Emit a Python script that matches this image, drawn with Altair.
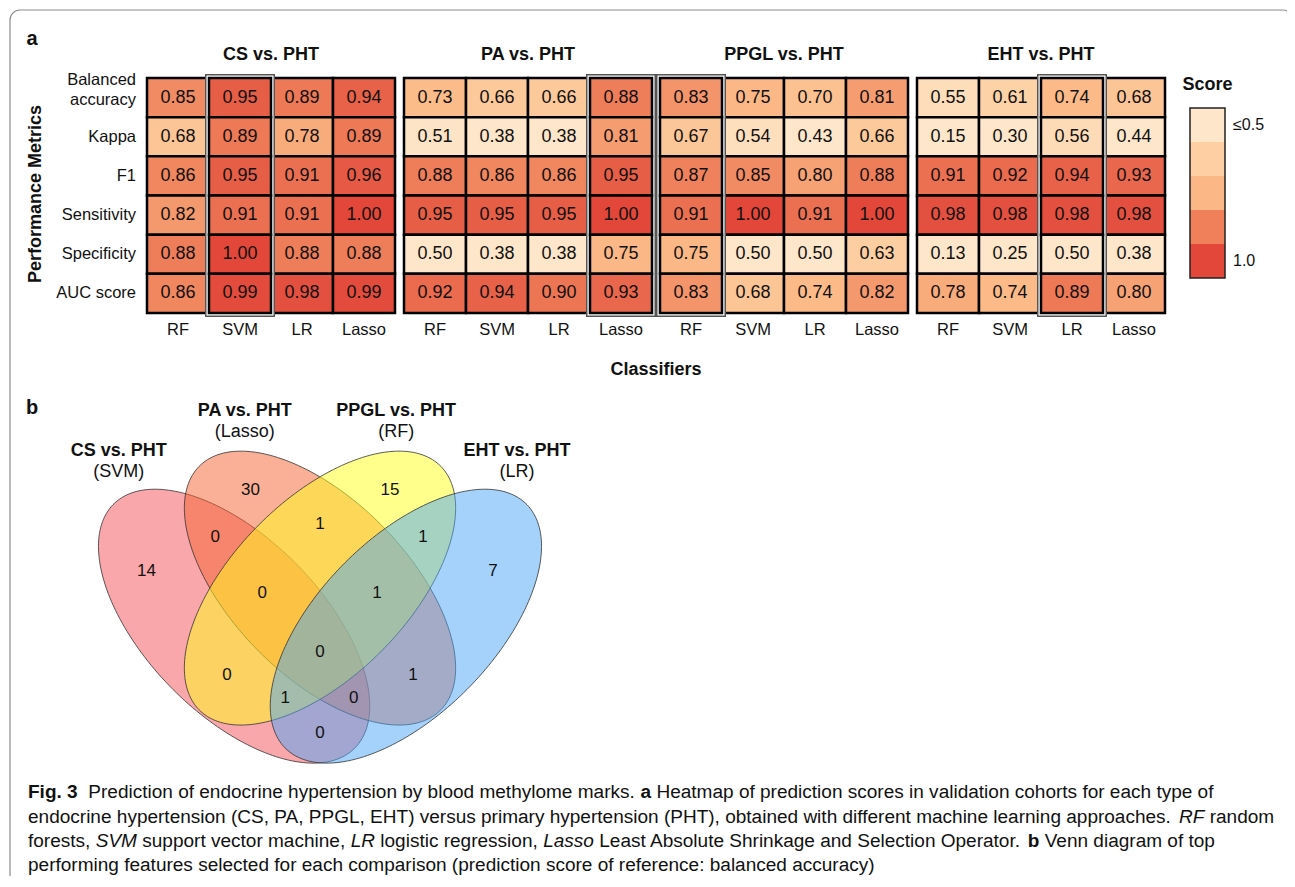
import altair as alt
import pandas as pd
import numpy as np

# ---------------- data ----------------
comparisons = ["CS vs. PHT", "PA vs. PHT", "PPGL vs. PHT", "EHT vs. PHT"]
classifiers = ["RF", "SVM", "LR", "Lasso"]
metrics = ["Balanced accuracy", "Kappa", "F1", "Sensitivity", "Specificity", "AUC score"]
metric_labels = ["Balanced\naccuracy", "Kappa", "F1", "Sensitivity", "Specificity", "AUC score"]

cs_scores = [
    [0.85, 0.95, 0.89, 0.94],
    [0.68, 0.89, 0.78, 0.89],
    [0.86, 0.95, 0.91, 0.96],
    [0.82, 0.91, 0.91, 1.00],
    [0.88, 1.00, 0.88, 0.88],
    [0.86, 0.99, 0.98, 0.99],
]
pa_scores = [
    [0.73, 0.66, 0.66, 0.88],
    [0.51, 0.38, 0.38, 0.81],
    [0.88, 0.86, 0.86, 0.95],
    [0.95, 0.95, 0.95, 1.00],
    [0.50, 0.38, 0.38, 0.75],
    [0.92, 0.94, 0.90, 0.93],
]
ppgl_scores = [
    [0.83, 0.75, 0.70, 0.81],
    [0.67, 0.54, 0.43, 0.66],
    [0.87, 0.85, 0.80, 0.88],
    [0.91, 1.00, 0.91, 1.00],
    [0.75, 0.50, 0.50, 0.63],
    [0.83, 0.68, 0.74, 0.82],
]
eht_scores = [
    [0.55, 0.61, 0.74, 0.68],
    [0.15, 0.30, 0.56, 0.44],
    [0.91, 0.92, 0.94, 0.93],
    [0.98, 0.98, 0.98, 0.98],
    [0.13, 0.25, 0.50, 0.38],
    [0.78, 0.74, 0.89, 0.80],
]
scores_by_comparison = [cs_scores, pa_scores, ppgl_scores, eht_scores]
best_classifier = ["SVM", "Lasso", "RF", "LR"]

score_stops = [0.5, 0.625, 0.75, 0.875, 1.0]
score_colors = ["#FEE6CA", "#FDCFA2", "#FBB886", "#EF805A", "#E2473A"]
legend_labels = ["\u22640.5", "", "", "", "1.0"]

venn_titles = ["CS vs. PHT", "PA vs. PHT", "PPGL vs. PHT", "EHT vs. PHT"]
venn_methods = ["(SVM)", "(Lasso)", "(RF)", "(LR)"]
venn_colors = ["#F34F55", "#F5612D", "#FFFF19", "#4BA5F5"]
venn_regions = ["CS", "PA", "PPGL", "EHT", "CS&PA", "PA&PPGL", "PPGL&EHT",
                "CS&PA&PPGL", "PA&PPGL&EHT", "CS&PA&PPGL&EHT", "CS&PPGL", "PA&EHT",
                "CS&PPGL&EHT", "CS&PA&EHT", "CS&EHT"]
venn_counts = [14, 30, 15, 7, 0, 1, 1, 0, 1, 0, 0, 1, 1, 0, 0]

caption_lines = [
    [("Fig. 3", "bold", "normal"),
     ("Prediction of endocrine hypertension by blood methylome marks.", "normal", "normal"),
     ("a", "bold", "normal"),
     ("Heatmap of prediction scores in validation cohorts for each type of", "normal", "normal")],
    [("endocrine hypertension (CS, PA, PPGL, EHT) versus primary hypertension (PHT), obtained with different machine learning approaches.", "normal", "normal"),
     ("RF", "normal", "italic"),
     ("random", "normal", "normal")],
    [("forests,", "normal", "normal"),
     ("SVM", "normal", "italic"),
     ("support vector machine,", "normal", "normal"),
     ("LR", "normal", "italic"),
     ("logistic regression,", "normal", "normal"),
     ("Lasso", "normal", "italic"),
     ("Least Absolute Shrinkage and Selection Operator.", "normal", "normal"),
     ("b", "bold", "normal"),
     ("Venn diagram of top", "normal", "normal")],
    [("performing features selected for each comparison (prediction score of reference: balanced accuracy)", "normal", "normal")],
]

# ---------------- layout (pixels in the chart area) ----------------
W, H = 1279, 868
FONT = "Liberation Sans"
PANEL_X0 = [139, 396, 652, 909]
PANEL_W = 248
ROW_TOP, ROW_BOTTOM = 70, 305
TITLE_Y, XLABEL_Y = 47, 322
YLABEL_X = 128
LEG_X0, LEG_X1, LEG_Y0, LEG_Y1 = 1182, 1217, 100, 270
CAPTION_X0 = 20
CAPTION_LINE1_WIDTH = 1186
CAPTION_Y = [790, 815, 839, 863]

# Venn geometry (unit space, mapped by an identity projection)
VENN_PROJ = dict(type="identity", scale=470, translate=[77, 848], reflectY=True)
VENN_CENTERS = [(0.33, 0.489), (0.5, 0.57), (0.5, 0.57), (0.67, 0.489)]
VENN_ANGLES = [-49, -49, 49, 49]
VENN_A, VENN_B = 0.353, 0.18
VENN_XSTRETCH = 1.075
VENN_ANCHORS = [(0.131, 0.606), (0.352, 0.779), (0.649, 0.779), (0.868, 0.606),
                (0.277, 0.679), (0.5, 0.706), (0.719, 0.679),
                (0.377, 0.560), (0.621, 0.560), (0.5, 0.434),
                (0.302, 0.385), (0.698, 0.385), (0.426, 0.336), (0.572, 0.336),
                (0.5, 0.262)]
VENN_TITLE_POS = [(0.072, 0.862), (0.340, 0.947), (0.662, 0.947), (0.919, 0.862)]
VENN_SUB_DY = 0.045

# Helvetica/Arial advance widths (per 1000 em) used to lay out the caption runs
HELV = {" ": 278, "(": 333, ")": 333, ",": 278, "-": 333, ".": 278, ":": 278,
        "A": 667, "B": 667, "C": 722, "D": 722, "E": 667, "F": 611, "G": 778, "H": 722,
        "I": 278, "J": 500, "K": 667, "L": 556, "M": 833, "N": 722, "O": 778, "P": 667,
        "Q": 778, "R": 722, "S": 667, "T": 611, "U": 722, "V": 667, "W": 944, "X": 667,
        "Y": 667, "Z": 611,
        "a": 556, "b": 556, "c": 500, "d": 556, "e": 556, "f": 278, "g": 556, "h": 556,
        "i": 222, "j": 222, "k": 500, "l": 222, "m": 833, "n": 556, "o": 556, "p": 556,
        "q": 556, "r": 333, "s": 500, "t": 278, "u": 556, "v": 500, "w": 722, "x": 500,
        "y": 500, "z": 500}
HELV_BOLD = {" ": 278, ".": 278, "3": 556, "F": 611, "a": 556, "b": 611, "g": 611, "i": 278}


def run_units(s, weight):
    tbl = HELV_BOLD if weight == "bold" else HELV
    return sum(tbl.get(ch, HELV.get(ch, 556)) for ch in s)


def caption_layout():
    line1 = caption_lines[0]
    u1 = sum(run_units(s, w) for s, w, _ in line1) + 278 * (len(line1) - 1) + 278
    size = CAPTION_LINE1_WIDTH / u1 * 1000.0
    placed = []
    for li, line in enumerate(caption_lines):
        x = CAPTION_X0
        for si, (seg, weight, style) in enumerate(line):
            placed.append((seg, weight, style, x, CAPTION_Y[li]))
            gap = 278 * (2 if (li == 0 and si == 0) else 1)
            x += (run_units(seg, weight) + gap) * size / 1000.0
    return size, placed


one = pd.DataFrame({"t": [""]})
color_scale = alt.Scale(domain=score_stops, range=score_colors, clamp=True, interpolate="rgb")


def text_at(txt, x, y, size, weight="normal", style="normal", align="center", angle=0,
            baseline="middle", font=FONT):
    return alt.Chart(pd.DataFrame({"t": [txt]})).mark_text(
        font=font, fontSize=size, fontWeight=weight, fontStyle=style, align=align,
        baseline=baseline, angle=angle, color="#111111"
    ).encode(x=alt.value(x), y=alt.value(y), text="t:N")


def panel(i):
    rows = []
    for r, m in enumerate(metrics):
        for c, clf in enumerate(classifiers):
            rows.append({"metric": m, "classifier": clf, "score": scores_by_comparison[i][r][c]})
    df = pd.DataFrame(rows)
    X = alt.X("classifier:N", axis=None,
              scale=alt.Scale(domain=classifiers, range=[PANEL_X0[i], PANEL_X0[i] + PANEL_W],
                              paddingInner=0, paddingOuter=0))
    Y = alt.Y("metric:N", axis=None,
              scale=alt.Scale(domain=metrics, range=[ROW_TOP, ROW_BOTTOM],
                              paddingInner=0, paddingOuter=0))
    C = alt.Color("score:Q", scale=color_scale, legend=None)
    cells = alt.Chart(df).mark_rect(stroke="black", strokeWidth=2.5).encode(x=X, y=Y, color=C)
    hl = alt.Chart(pd.DataFrame({"classifier": [best_classifier[i]]}))
    hl_outer = hl.mark_rect(fill="white", fillOpacity=0, stroke="#555555", strokeWidth=8).encode(
        x=X, y=alt.value(ROW_TOP), y2=alt.value(ROW_BOTTOM))
    hl_gap = hl.mark_rect(fill="white", fillOpacity=0, stroke="white", strokeWidth=5).encode(
        x=X, y=alt.value(ROW_TOP), y2=alt.value(ROW_BOTTOM))
    best = df[df["classifier"] == best_classifier[i]]
    hl_cells = alt.Chart(best).mark_rect(stroke="black", strokeWidth=2.5).encode(x=X, y=Y, color=C)
    txt = alt.Chart(df).mark_text(font=FONT, fontSize=18, color="#111111").encode(
        x=X, y=Y, text=alt.Text("score:Q", format=".2f"))
    xl = alt.Chart(pd.DataFrame({"classifier": classifiers})).mark_text(
        font=FONT, fontSize=16.5, color="#111111").encode(x=X, y=alt.value(XLABEL_Y), text="classifier:N")
    title = text_at(comparisons[i], PANEL_X0[i] + PANEL_W / 2, TITLE_Y, 18, "bold")
    layers = [cells, hl_outer, hl_gap, hl_cells, txt, xl, title]
    if i == 0:
        ldf = pd.DataFrame({"metric": metrics, "label": metric_labels})
        single = ldf[~ldf["label"].str.contains("\n")]
        multi = ldf[ldf["label"].str.contains("\n")]
        yl1 = alt.Chart(single).mark_text(
            font=FONT, fontSize=16.5, align="right", color="#111111"
        ).encode(x=alt.value(YLABEL_X), y=Y, text="label:N")
        yl2 = alt.Chart(multi).mark_text(
            font=FONT, fontSize=16.5, align="right", lineBreak="\n", lineHeight=20, dy=-17.5,
            color="#111111"
        ).encode(x=alt.value(YLABEL_X), y=Y, text="label:N")
        layers += [yl1, yl2]
    return alt.layer(*layers)


def legend():
    df = pd.DataFrame({"stop": score_stops, "label": legend_labels})
    LY = alt.Y("stop:O", axis=None,
               scale=alt.Scale(domain=score_stops, range=[LEG_Y0, LEG_Y1], paddingInner=0, paddingOuter=0))
    blocks = alt.Chart(df).mark_rect().encode(
        x=alt.value(LEG_X0), x2=alt.value(LEG_X1), y=LY,
        color=alt.Color("stop:Q", scale=color_scale, legend=None))
    box = alt.Chart(one).mark_rect(fill="white", fillOpacity=0, stroke="#222222", strokeWidth=1.5).encode(
        x=alt.value(LEG_X0), x2=alt.value(LEG_X1), y=alt.value(LEG_Y0), y2=alt.value(LEG_Y1))
    labels = alt.Chart(df).mark_text(font=FONT, fontSize=16, align="left", color="#111111").encode(
        x=alt.value(LEG_X1 + 8), y=LY, text="label:N")
    title = text_at("Score", (LEG_X0 + LEG_X1) / 2, 77, 18, "bold")
    return alt.layer(blocks, box, labels, title)


def ellipse_ring(cx, cy, a, b, ang_deg, n=200):
    t = np.linspace(0, 2 * np.pi, n + 1)
    phi = np.deg2rad(ang_deg)
    xs = cx + a * np.cos(t) * np.cos(phi) - b * np.sin(t) * np.sin(phi)
    ys = cy + a * np.cos(t) * np.sin(phi) + b * np.sin(t) * np.cos(phi)
    xs = 0.5 + (xs - 0.5) * VENN_XSTRETCH
    return [[float(x), float(y)] for x, y in zip(xs, ys)]


def venn():
    feats = []
    for k in range(4):
        cx, cy = VENN_CENTERS[k]
        feats.append({
            "type": "Feature",
            "properties": {"name": venn_titles[k], "color": venn_colors[k]},
            "geometry": {"type": "Polygon",
                         "coordinates": [ellipse_ring(cx, cy, VENN_A, VENN_B, VENN_ANGLES[k])]},
        })
    shapes = alt.Chart(alt.Data(values=feats)).mark_geoshape(
        fillOpacity=0.5, stroke="#333333", strokeWidth=0.8
    ).encode(fill=alt.Fill("properties.color:N", scale=None)).project(**VENN_PROJ)

    cdf = pd.DataFrame({"region": venn_regions, "count": venn_counts,
                        "lon": [p[0] for p in VENN_ANCHORS], "lat": [p[1] for p in VENN_ANCHORS]})
    counts = alt.Chart(cdf).mark_text(font=FONT, fontSize=17, color="#111111").encode(
        longitude="lon:Q", latitude="lat:Q", text="count:N").project(**VENN_PROJ)

    tdf = pd.DataFrame({"title": venn_titles, "method": venn_methods,
                        "lon": [p[0] for p in VENN_TITLE_POS], "lat": [p[1] for p in VENN_TITLE_POS]})
    tdf["lat2"] = tdf["lat"] - VENN_SUB_DY
    titles = alt.Chart(tdf).mark_text(font=FONT, fontSize=18, fontWeight="bold", color="#111111").encode(
        longitude="lon:Q", latitude="lat:Q", text="title:N").project(**VENN_PROJ)
    methods = alt.Chart(tdf).mark_text(font=FONT, fontSize=18, color="#111111").encode(
        longitude="lon:Q", latitude="lat2:Q", text="method:N").project(**VENN_PROJ)
    return alt.layer(shapes, counts, titles, methods)


frame = alt.Chart(one).mark_rect(fill="white", fillOpacity=0, stroke="#8c8c8c", strokeWidth=1.2,
                                 cornerRadius=10).encode(
    x=alt.value(2), x2=alt.value(1285), y=alt.value(2), y2=alt.value(H + 60))

annotations = [
    text_at("a", 24, 31, 20, "bold"),
    text_at("b", 24, 400, 20, "bold"),
    text_at("Performance Metrics", 28, 186, 18, "bold", angle=270),
    text_at("Classifiers", 648, 362, 18, "bold"),
]

cap_size, cap_runs = caption_layout()
caption = [text_at(seg, x, y, cap_size, weight, style, align="left", baseline="alphabetic")
           for seg, weight, style, x, y in cap_runs]

chart = alt.layer(
    frame, panel(0), panel(1), panel(2), panel(3), legend(), venn(), *annotations, *caption
).resolve_scale(
    x="independent", y="independent", color="independent"
).properties(
    width=W, height=H, padding=0, autosize=alt.AutoSizeParams(type="none"), background="white"
).configure_view(stroke=None)

chart.save("out.html", embed_options={"renderer": "svg", "actions": False})
